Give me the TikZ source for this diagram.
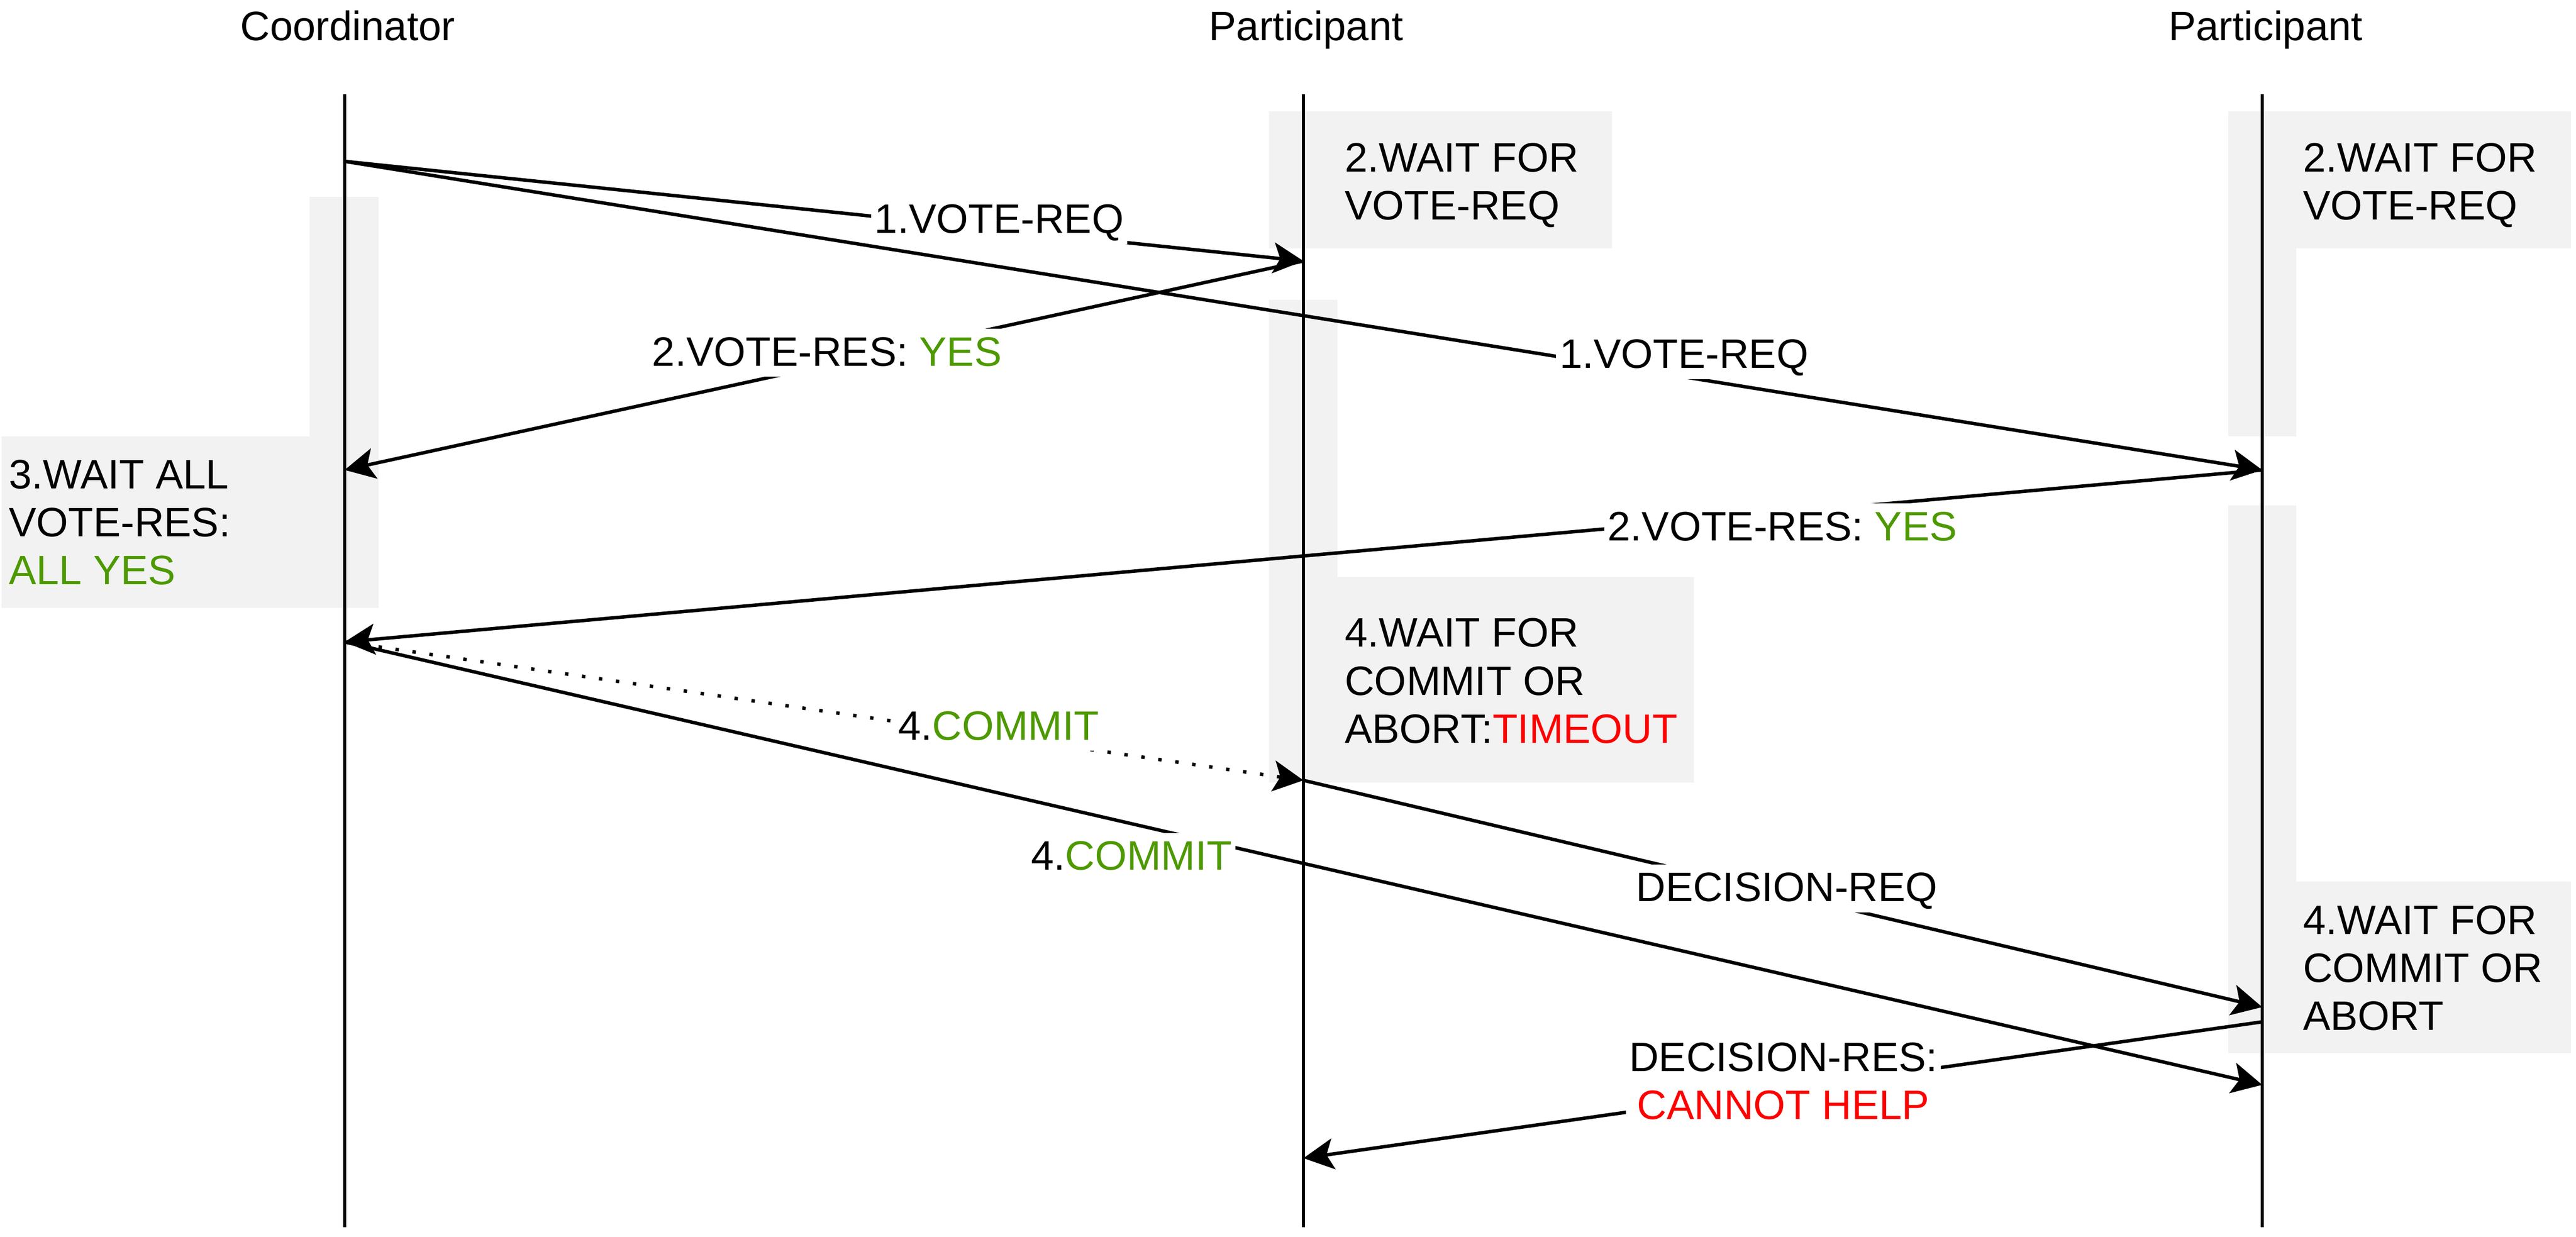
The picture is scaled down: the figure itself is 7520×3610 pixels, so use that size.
\documentclass[tikz,border=0pt]{standalone}
\usepackage{fontspec}
\setmainfont{Liberation Sans}
\usetikzlibrary{arrows.meta}
\definecolor{boxgray}{HTML}{F2F2F2}
\definecolor{okgreen}{HTML}{4D9900}
\definecolor{errred}{HTML}{FF0000}
\begin{document}
\begin{tikzpicture}[x=0.1pt, y=-0.1pt,
  font=\fontsize{12}{14}\selectfont,
  lifeline/.style={line width=1pt, draw=black},
  msg/.style={line width=1pt, -{Stealth[length=8.8pt,width=9pt,inset=2pt]}},
  dotmsg/.style={msg, dash pattern=on 1pt off 4pt},
  lbl/.style={fill=white, inner xsep=1pt, inner ysep=0pt, text height=10.8pt, text depth=3.2pt, anchor=base},
  lbltwo/.style={fill=white, inner xsep=1pt, inner ysep=1pt, anchor=base},
  boxtxt/.style={inner sep=0pt, anchor=base west},
  titletxt/.style={inner sep=0pt, anchor=base},
  shade/.style={fill=boxgray, draw=none}]
\useasboundingbox (0,0) rectangle (7520,3610);
% gray activation / state areas
\fill[shade] (904,574) rectangle (1105,1774);
\fill[shade] (5,1274) rectangle (1105,1774);
\fill[shade] (3705,325) rectangle (4706,725);
\fill[shade] (3705,875) rectangle (3905,2285);
\fill[shade] (3705,1685) rectangle (4945,2285);
\fill[shade] (6504,325) rectangle (7505,725);
\fill[shade] (6504,325) rectangle (6704,1274);
\fill[shade] (6504,1475) rectangle (6704,3074);
\fill[shade] (6504,2573) rectangle (7505,3074);
% titles
\node[titletxt] (tc) at (1015,118) {Coordinator};
\node[titletxt] (tp) at (3813,118) {Participant};
\node[titletxt] (tq) at (6614,118) {Participant};
% lifelines
\coordinate (cT) at (1006,276); \coordinate (cB) at (1006,3582);
\coordinate (pT) at (3805,276); \coordinate (pB) at (3805,3582);
\coordinate (qT) at (6604,276); \coordinate (qB) at (6604,3582);
\draw[lifeline] (cT) -- (cB);
\draw[lifeline] (pT) -- (pB);
\draw[lifeline] (qT) -- (qB);
% state texts
\node[boxtxt] (bc) at (24,1427) {\begin{tabular}[t]{@{}l@{}}3.WAIT ALL\\VOTE-RES:\\\textcolor{okgreen}{ALL YES}\end{tabular}};
\node[boxtxt] (bp1) at (3924,502) {\begin{tabular}[t]{@{}l@{}}2.WAIT FOR\\VOTE-REQ\end{tabular}};
\node[boxtxt] (bq1) at (6721,502) {\begin{tabular}[t]{@{}l@{}}2.WAIT FOR\\VOTE-REQ\end{tabular}};
\node[boxtxt] (bp2) at (3924,1889) {\begin{tabular}[t]{@{}l@{}}4.WAIT FOR\\COMMIT OR\\ABORT:\textcolor{errred}{TIMEOUT}\end{tabular}};
\node[boxtxt] (bq2) at (6721,2727) {\begin{tabular}[t]{@{}l@{}}4.WAIT FOR\\COMMIT OR\\ABORT\end{tabular}};
% message points
\coordinate (c1) at (1006,471);
\coordinate (c2) at (1006,1372);
\coordinate (c3) at (1006,1874);
\coordinate (p1) at (3805,762);
\coordinate (p2) at (3805,2278);
\coordinate (p3) at (3805,3381);
\coordinate (q1) at (6604,1372);
\coordinate (q2) at (6604,2940);
\coordinate (q3) at (6604,2983);
\coordinate (q4) at (6604,3167);
% messages
\draw[msg] (c1) -- (p1);
\draw[msg] (c1) -- (q1);
\draw[msg] (p1) -- (c2);
\draw[msg] (q1) -- (c3);
\draw[dotmsg] (c3) -- (p2);
\draw[msg] (c3) -- (q4);
\draw[msg] (p2) -- (q2);
\draw[msg] (q3) -- (p3);
% labels
\node[lbl] (l1a) at (2917,681) {1.VOTE-REQ};
\node[lbl] (l1b) at (4916,1075) {1.VOTE-REQ};
\node[lbl] (l2a) at (2414,1068) {2.VOTE-RES: \textcolor{okgreen}{YES}};
\node[lbl] (l2b) at (5203,1578) {2.VOTE-RES: \textcolor{okgreen}{YES}};
\node[lbl] (l4a) at (2915,2160) {4.\textcolor{okgreen}{COMMIT}};
\node[lbl] (l4b) at (3303,2540) {4.\textcolor{okgreen}{COMMIT}};
\node[lbl] (ldq) at (5216,2632) {DECISION-REQ};
\node[lbltwo] (lds) at (5206,3127) {\begin{tabular}[t]{@{}c@{}}DECISION-RES:\\\textcolor{errred}{CANNOT HELP}\end{tabular}};
\end{tikzpicture}
\end{document}
